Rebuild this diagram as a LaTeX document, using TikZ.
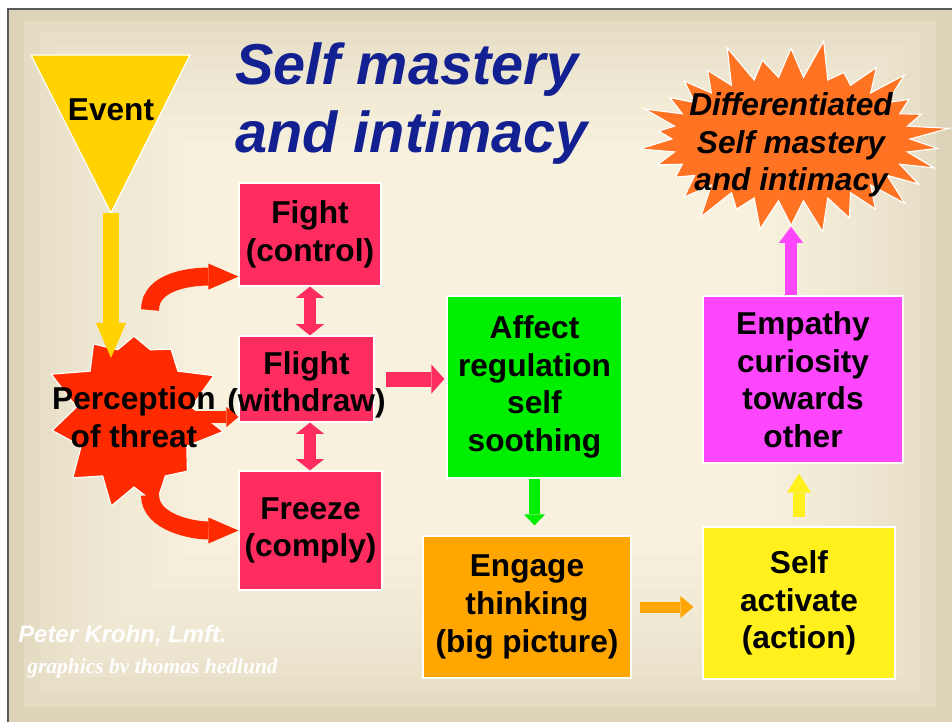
\documentclass[tikz,border=0pt]{standalone}
\usepackage{fontspec}
\setmainfont{Liberation Sans}
\newfontfamily\creditfont{Liberation Serif}
\usetikzlibrary{shapes,arrows.meta,positioning}

\definecolor{bgouter}{RGB}{220,211,184}
\definecolor{bginner}{RGB}{247,241,222}
\definecolor{framegray}{RGB}{90,90,90}
\definecolor{titleblue}{RGB}{18,32,145}
\definecolor{eventyellow}{RGB}{255,210,0}
\definecolor{threatred}{RGB}{255,42,0}
\definecolor{fpink}{RGB}{255,45,95}
\definecolor{affectgreen}{RGB}{0,238,0}
\definecolor{engageorange}{RGB}{255,166,0}
\definecolor{actyellow}{RGB}{255,240,30}
\definecolor{empmagenta}{RGB}{255,70,255}
\definecolor{goalorange}{RGB}{255,115,35}

\newcommand{\boxfont}{\bfseries\fontsize{22.5}{26.7}\selectfont}

\begin{document}
\begin{tikzpicture}[x=0.025cm, y=-0.025cm, font=\boxfont,
    box/.style={draw=white, line width=0.8pt, align=center, inner sep=0pt},
    fat/.style args={#1/#2/#3}{line width=#1,
        arrows={-Triangle[width=#2,length=#3,line width=0pt]}},
    both/.style args={#1/#2/#3}{line width=#1,
        arrows={Triangle[width=#2,length=#3,line width=0pt]-Triangle[width=#2,length=#3,line width=0pt]}}]

\useasboundingbox (0,0) rectangle (952,722);
\fill[white] (0,0) rectangle (952,722);

% Background
\foreach \i in {0,...,12}{
    \pgfmathsetmacro\mix{100*sqrt(\i/12)}
    \fill[bginner!\mix!bgouter] ({8+16*\i},{9+12*\i}) rectangle ({952-16*\i},{722-15*\i});
}
\draw[framegray, line width=1.2pt] (8,9) rectangle (975,745);

% Title
\node[anchor=north west,
    align=left,
    inner sep=0pt,
    text=titleblue,
    font=\bfseries\itshape\fontsize{41}{48.4}\selectfont] (title) at (235,42) {Self mastery\\and intimacy};

% Event
\fill[eventyellow, draw=white, line width=0.8pt] (31,55) -- (190,55) -- (111,213) -- cycle;
\coordinate (eventtip) at (111,213);
\node (event) at (111,110) {Event};

% Perception of threat
\node[starburst,
    starburst points=11,
    starburst point height=0.85cm,
    random starburst=3,
    fill=threatred,
    draw=white,
    line width=0.8pt,
    minimum width=4.6cm,
    minimum height=5.2cm,
    label={[align=center]center:Perception\\of threat}] (threat) at (134,417) {};

% Fight, flight, freeze
\node[box, fill=fpink,
    minimum width=3.55cm,
    minimum height=2.575cm] (fight) at (310,234.5) {Fight\\(control)};

\node[box, fill=fpink,
    minimum width=3.375cm,
    minimum height=2.15cm,
    label={[align=center, yshift=-0.15cm]center:Flight\\(withdraw)}] (flight) at (306.5,379) {};

\node[box, fill=fpink,
    minimum width=3.575cm,
    minimum height=2.975cm] (freeze) at (310.5,530.5) {Freeze\\(comply)};

% Regulation and thinking
\node[box, fill=affectgreen,
    minimum width=4.375cm,
    minimum height=4.55cm] (affect) at (534.5,387) {Affect\\regulation\\self\\soothing};

\node[box, fill=engageorange,
    minimum width=5.2cm,
    minimum height=3.55cm] (engage) at (527,607) {Engage\\thinking\\(big picture)};

% Action and empathy
\node[box, fill=actyellow,
    minimum width=4.8cm,
    minimum height=3.8cm] (selfact) at (799,603) {Self\\activate\\(action)};

\node[box, fill=empmagenta,
    minimum width=5cm,
    minimum height=4.175cm] (empathy) at (803,379.5) {Empathy\\curiosity\\towards\\other};

% Goal
\node[starburst,
    starburst points=30,
    starburst point height=1cm,
    fill=goalorange,
    draw=white,
    line width=0.8pt,
    minimum width=7.95cm,
    minimum height=5.1cm,
    label={[align=center, yshift=-0.15cm, font=\boxfont\itshape]center:Differentiated\\Self mastery\\and intimacy}] (goal) at (791,139) {};

% Credits
\node[anchor=base west, inner sep=0pt, text=white,
    font=\bfseries\itshape\fontsize{17}{20}\selectfont] (author) at (18,642) {Peter Krohn, Lmft.};
\node[anchor=base west, inner sep=0pt, text=white,
    font=\creditfont\bfseries\itshape\fontsize{15.3}{18}\selectfont] (credit) at (27,673) {graphics bv thomas hedlund};

% Arrows
\draw[eventyellow, fat=0.375cm/0.75cm/0.875cm, shorten >=1.475cm] (eventtip) -- (eventtip |- threat.center);

\draw[threatred, fat=0.45cm/0.65cm/0.75cm] ([shift={(16,-107)}]threat.center)
    .. controls +(0,-30) and +(-45,0) .. ([shift={(0,-10)}]fight.south west);
\draw[threatred, fat=0.45cm/0.65cm/0.75cm] ([shift={(16,78)}]threat.center)
    .. controls +(0,28) and +(-45,0) .. (freeze.west);
\draw[threatred, fat=0.3cm/0.5cm/0.3cm] ([xshift=1.4cm]threat.center) -- (flight.west |- threat.center);

\draw[fpink, both=0.3cm/0.7cm/0.28cm] (fight.south) -- (fight.south |- flight.north);
\draw[fpink, both=0.3cm/0.7cm/0.28cm] (fight.south |- flight.south) -- (fight.south |- freeze.north);
\draw[fpink, fat=0.375cm/0.725cm/0.325cm, shorten <=0.275cm, shorten >=0.05cm] (flight.east) -- (affect.west |- flight.east);

\draw[affectgreen, fat=0.275cm/0.525cm/0.275cm, shorten >=0.25cm] (affect.south) -- (affect.south |- engage.north);
\draw[engageorange, fat=0.275cm/0.55cm/0.325cm, shorten <=0.2cm, shorten >=0.225cm] (engage.east) -- (selfact.west |- engage.east);
\draw[actyellow, fat=0.3cm/0.6cm/0.475cm, shorten <=0.225cm, shorten >=0.25cm] (selfact.north) -- (selfact.north |- empathy.south);
\draw[empmagenta, fat=0.3cm/0.6cm/0.4cm] (goal.south |- empathy.north) -- (goal.south);

\end{tikzpicture}
\end{document}
